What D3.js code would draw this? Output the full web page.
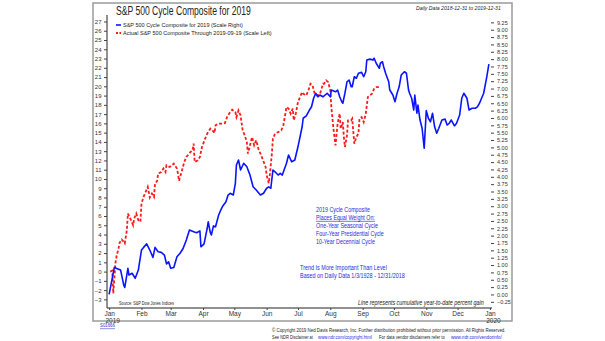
<!DOCTYPE html>
<html>
<head>
<meta charset="utf-8">
<script src="https://cdn.jsdelivr.net/npm/d3@7"></script>
<style>
  body { margin: 0; background: #fff; }
  text { font-family: "Liberation Sans Narrow", "Liberation Sans", Arial, sans-serif; }
</style>
</head>
<body>
<div id="chart"></div>
<script>
// S&P 500 cycle composite 2019 vs actual YTD
const cycleDays = [0, 5, 9, 11, 14, 15, 18, 19, 22, 25, 28, 31, 33, 36, 39, 42, 44, 47, 50, 53, 55, 57, 59, 62, 65, 68, 71, 74, 77, 81, 84, 87, 88, 91, 94, 95, 97, 98, 100, 102, 105, 107, 109, 112, 114, 116, 119, 121, 122, 124, 126, 129, 132, 135, 138, 141, 145, 148, 151, 153, 155, 157, 159, 162, 164, 166, 170, 172, 175, 178, 181, 185, 186, 189, 192, 194, 196, 198, 200, 202, 205, 209, 212, 213, 217, 219, 221, 223, 224, 226, 228, 230, 232, 233, 235, 237, 239, 242, 244, 246, 247, 250, 253, 254, 256, 259, 260, 262, 263, 265, 268, 269, 272, 274, 276, 278, 280, 283, 285, 287, 288, 290, 292, 293, 295, 296, 298, 300, 302, 304, 306, 308, 310, 312, 314, 316, 319, 322, 324, 326, 328, 331, 333, 336, 338, 340, 343, 345, 348, 351, 353, 355, 359, 362, 364];
const cycleVals = [0, 0.92, 0.86, 0.83, 0.32, 0.24, 0.89, 0.66, 0.72, 0.55, 0.83, 1.51, 1.60, 1.72, 1.51, 1.26, 1.60, 1.45, 1.43, 1.34, 1.04, 1.11, 0.89, 0.92, 1.28, 1.40, 1.57, 1.85, 2.19, 2.13, 2.10, 2.16, 1.62, 1.72, 2.25, 2.47, 2.10, 2.02, 2.33, 2.30, 2.70, 2.87, 3.01, 3.15, 3.38, 3.44, 3.38, 3.78, 4.40, 4.57, 4.23, 4.46, 4.34, 4.06, 3.66, 3.55, 3.38, 3.44, 3.61, 3.66, 3.61, 4.23, 4.17, 4.06, 4.12, 4.06, 4.46, 4.74, 4.51, 4.57, 5.02, 5.70, 5.99, 6.07, 6.27, 6.38, 6.67, 6.84, 6.72, 6.78, 6.72, 6.84, 6.72, 6.95, 6.89, 6.95, 6.72, 6.55, 6.50, 6.84, 7.23, 7.29, 7.06, 7.06, 7.40, 7.35, 7.52, 7.55, 7.40, 7.57, 7.97, 8.00, 7.97, 8.03, 7.86, 7.69, 7.86, 7.91, 7.76, 7.52, 7.23, 6.95, 6.78, 6.55, 6.84, 7.06, 7.46, 7.57, 7.52, 6.95, 6.84, 6.67, 6.27, 6.78, 6.16, 6.44, 5.93, 5.65, 4.97, 6.25, 5.99, 5.87, 6.16, 5.70, 5.48, 5.65, 5.93, 5.96, 5.76, 5.82, 5.93, 5.73, 5.82, 6.10, 6.67, 6.84, 6.67, 6.27, 6.33, 6.33, 6.38, 6.50, 6.84, 7.40, 7.83];

const actualDays = [1, 3, 4, 6, 7, 9, 10, 12, 14, 15, 17, 18, 21, 23, 24, 26, 28, 30, 31, 33, 35, 37, 39, 41, 43, 44, 46, 47, 50, 52, 54, 55, 58, 62, 63, 65, 66, 67, 69, 72, 74, 78, 80, 81, 82, 85, 87, 89, 92, 94, 97, 99, 101, 102, 105, 108, 111, 113, 116, 118, 121, 122, 124, 126, 128, 130, 132, 133, 135, 137, 139, 141, 143, 145, 147, 150, 151, 153, 154, 156, 157, 159, 162, 165, 167, 170, 172, 174, 176, 177, 179, 181, 185, 186, 189, 191, 193, 195, 197, 200, 202, 205, 206, 208, 210, 212, 213, 215, 217, 219, 221, 222, 224, 225, 226, 228, 229, 232, 233, 235, 237, 239, 240, 242, 244, 246, 248, 252, 254, 256, 260];
const actualVals = [0, 0.1, -2.35, 0.88, 1.6, 2.5, 3.1, 3.47, 3.21, 3.04, 4.47, 6.27, 5.55, 5.01, 5.73, 6.27, 5.55, 5.37, 7.35, 8.06, 8.60, 9.14, 8.00, 8.43, 8.06, 9.50, 9.78, 10.58, 10.75, 11.12, 10.75, 11.48, 11.29, 11.66, 11.48, 11.12, 10.58, 9.80, 10.58, 11.83, 12.37, 12.91, 13.09, 13.81, 11.83, 12.01, 12.37, 13.45, 14.35, 14.89, 15.43, 15.25, 14.96, 15.79, 15.97, 15.97, 16.03, 16.68, 17.22, 17.48, 17.22, 16.68, 17.40, 16.86, 15.25, 14.71, 13.99, 12.74, 13.63, 14.53, 13.63, 14.17, 13.28, 12.74, 12.20, 11.29, 10.40, 9.54, 10.40, 12.74, 14.35, 14.89, 15.06, 15.25, 15.79, 17.76, 17.60, 17.05, 17.59, 16.33, 17.10, 18.30, 19.38, 19.20, 19.02, 19.56, 20.28, 20.10, 19.20, 19.02, 19.13, 20.28, 20.28, 20.64, 20.45, 19.56, 17.76, 15.43, 13.63, 15.97, 17.05, 15.43, 16.14, 14.53, 13.45, 14.71, 16.33, 16.33, 16.51, 13.81, 14.53, 14.89, 16.51, 16.68, 16.14, 17.05, 18.84, 19.20, 19.74, 19.91, 19.91];

const leftTicks = d3.range(-3, 28, 1);
const rightTicks = d3.range(-0.25, 9.26, 0.25);
const monthTicks = d3.timeMonth.range(new Date(2019, 0, 1), new Date(2020, 0, 2));

const noteLines = ["2019 Cycle Composite", "Places Equal Weight On:", "One-Year Seasonal Cycle", "Four-Year Presidential Cycle", "10-Year Decennial Cycle"];
const trendLines = ["Trend Is More Important Than Level", "Based on Daily Data 1/3/1928 - 12/31/2018"];

const W = 605, H = 341;
const svg = d3.select("#chart").append("svg").attr("width", W).attr("height", H);

const toDate = d => new Date(2019, 0, 1 + d);
const x = d3.scaleTime().domain([new Date(2018, 11, 29), new Date(2020, 0, 3)]).range([106, 492]);
const yL = d3.scaleLinear().domain([-3.93, 27.7]).range([308, 15]);
const yR = d3.scaleLinear().domain([-0.46, 9.5]).range([308, 15]);

// text squeezed horizontally to a given width (the original uses a condensed face)
function txt(str, px, py, size, len, opts = {}) {
  const t = svg.append("text")
    .attr("dy", "0.35em")
    .style("font-size", size + "px")
    .attr("fill", opts.fill || "#222")
    .text(str);
  if (opts.italic) t.style("font-style", "italic");
  if (opts.underline) t.style("text-decoration", "underline");
  let sx = 1;
  if (len) sx = len / t.node().getComputedTextLength();
  t.attr("transform", `translate(${px},${py}) scale(${sx},1)`);
  return t;
}

// frame
svg.append("rect").attr("x", 93).attr("y", 3).attr("width", 419).attr("height", 318)
  .attr("fill", "none").attr("stroke", "#9a9a9a").attr("stroke-width", 1.5);

txt("S&P 500 Cycle Composite for 2019", 116, 10.5, 12, 135);
txt("Daily Data 2018-12-31 to 2019-12-31", 416, 7.5, 6, 85, { italic: true });

// axes
const gL = svg.append("g").attr("transform", "translate(107,0)")
  .call(d3.axisLeft(yL).tickValues(leftTicks).tickSize(3).tickPadding(2.5));
gL.select(".domain").attr("d", "M0,15V308").attr("stroke", "#222");
gL.selectAll("text").style("font-size", "6px").attr("fill", "#333");
gL.selectAll(".tick line").attr("stroke", "#444");

const gR = svg.append("g").attr("transform", "translate(491,0)")
  .call(d3.axisRight(yR).tickValues(rightTicks).tickFormat(d3.format(".2f")).tickSize(3).tickPadding(3));
gR.select(".domain").remove();
gR.selectAll("text").style("font-size", "5.5px").attr("fill", "#333");
gR.selectAll(".tick line").attr("stroke", "#444");

const gB = svg.append("g").attr("transform", "translate(0,308)")
  .call(d3.axisBottom(x).tickValues(monthTicks).tickFormat(d3.timeFormat("%b")).tickSize(2).tickPadding(1.5));
gB.select(".domain").attr("d", "M107,0H492").attr("stroke", "#222");
gB.selectAll("text").style("font-size", "6.5px").attr("fill", "#333");
gB.selectAll(".tick line").attr("stroke", "#444");
gB.selectAll(".tick text").filter(d => d.getMonth() === 0)
  .append("tspan").attr("x", 3).attr("dy", "1.0em").text(d => d.getFullYear());

// lines
const cycle = cycleDays.map((d, i) => ({ date: toDate(d), v: cycleVals[i] }));
const actual = actualDays.map((d, i) => ({ date: toDate(d), v: actualVals[i] }));

svg.append("path").datum(actual)
  .attr("fill", "none").attr("stroke", "#ff1a1a").attr("stroke-width", 1.8)
  .attr("stroke-dasharray", "3,2")
  .attr("d", d3.line().x(d => x(d.date)).y(d => yL(d.v)));

svg.append("path").datum(cycle)
  .attr("fill", "none").attr("stroke", "#0a14ff").attr("stroke-width", 1.6)
  .attr("stroke-linejoin", "round")
  .attr("d", d3.line().x(d => x(d.date)).y(d => yR(d.v)));

// legend
svg.append("line").attr("x1", 116).attr("x2", 121).attr("y1", 25).attr("y2", 25)
  .attr("stroke", "#0a14ff").attr("stroke-width", 1.6);
txt("S&P 500 Cycle Composite for 2019 (Scale Right)", 123, 25, 6, 120);
svg.append("line").attr("x1", 116).attr("x2", 121).attr("y1", 33).attr("y2", 33)
  .attr("stroke", "#ff1a1a").attr("stroke-width", 1.8).attr("stroke-dasharray", "2,1.5");
txt("Actual S&P 500 Composite Through 2019-09-19 (Scale Left)", 123, 33, 6, 149);

// notes
const noteLens = [54, 59, 62, 68, 59];
noteLines.forEach((s, i) => txt(s, 316, 209.5 + i * 8, 6.5, noteLens[i], { fill: "#2b2bdd", underline: i === 1 }));
const trendLens = [87, 105];
trendLines.forEach((s, i) => txt(s, 300, 268 + i * 8, 6.5, trendLens[i], { fill: "#2b2bdd" }));

txt("Source: S&P Dow Jones Indices", 119, 303.5, 5, 55);
txt("Line represents cumulative year-to-date percent gain", 358, 302.5, 7, 126, { italic: true });

txt("S01666", 100, 325.5, 5.5, 15, { fill: "#3333cc", underline: true });
txt("© Copyright 2019 Ned Davis Research, Inc. Further distribution prohibited without prior permission. All Rights Reserved.", 272, 330.5, 5, 234);
txt("See NDR Disclaimer at", 272, 337.5, 5, 41);
txt("www.ndr.com/copyright.html", 318, 337.5, 5, 54, { fill: "#2b2bdd" });
txt("For data vendor disclaimers refer to", 379, 337.5, 5, 66);
txt("www.ndr.com/vendorinfo/", 451, 337.5, 5, 51, { fill: "#2b2bdd" });
</script>
</body>
</html>
